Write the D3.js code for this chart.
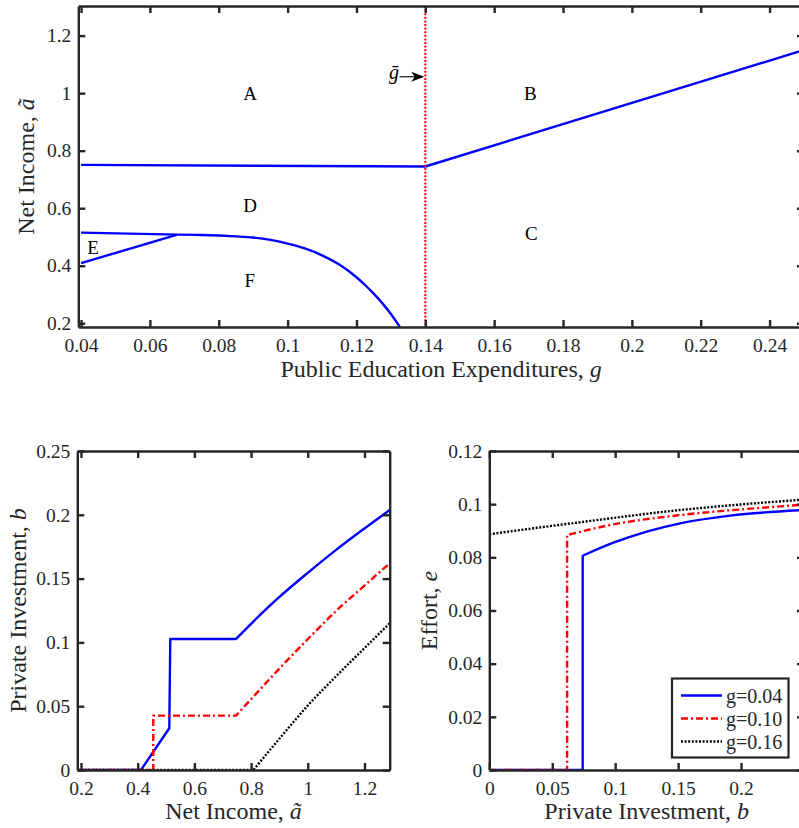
<!DOCTYPE html>
<html>
<head>
<meta charset="utf-8">
<script src="https://cdn.jsdelivr.net/npm/d3@7/dist/d3.min.js"></script>
<style>
  html, body { margin: 0; padding: 0; background: #fff; }
  svg { display: block; font-family: "Liberation Serif", "Times New Roman", serif; }
</style>
</head>
<body>
<svg id="chart" width="799" height="828"></svg>
<script>
// ---------------- DATA ----------------
// Top panel: regions in (g, ã) space
const topXTicks = [0.04, 0.06, 0.08, 0.10, 0.12, 0.14, 0.16, 0.18, 0.20, 0.22, 0.24];
const topYTicks = [0.2, 0.4, 0.6, 0.8, 1.0, 1.2];
const gBar = 0.14;
const boundAD_g = [0.04, 0.14];
const boundAD_a = [0.7506, 0.745];
const boundBC_g = [0.14, 0.25];
const boundBC_a = [0.745, 1.15];
const boundDE_g = [0.04, 0.068];
const boundDE_a = [0.515, 0.508];
const boundEF_g = [0.04, 0.068];
const boundEF_a = [0.409, 0.508];
const boundDF_g = [0.068, 0.075, 0.08, 0.085, 0.09, 0.095, 0.10, 0.105, 0.11, 0.115, 0.12, 0.1225, 0.125, 0.1275, 0.13, 0.1326];
const boundDF_a = [0.508, 0.507, 0.505, 0.502, 0.498, 0.490, 0.477, 0.460, 0.436, 0.404, 0.360, 0.333, 0.303, 0.270, 0.232, 0.187];
const regionNames = ["A", "B", "C", "D", "E", "F"];
const regionG = [0.0891, 0.1705, 0.1708, 0.0891, 0.0435, 0.089];
const regionA = [1.0, 1.0, 0.514, 0.611, 0.465, 0.35];
const arrowG = [0.1325, 0.1397];
const arrowA = 1.057;

// Bottom-left: private investment b vs net income ã
const blXTicks = [0.2, 0.4, 0.6, 0.8, 1.0, 1.2];
const blYTicks = [0, 0.05, 0.10, 0.15, 0.20, 0.25];
const inc_g04 = [0.187, 0.4116, 0.5115, 0.515, 0.7467, 0.8, 0.9, 1.0, 1.1, 1.2, 1.289];
const inv_g04 = [0, 0, 0.0327, 0.1027, 0.1027, 0.1146, 0.1356, 0.1545, 0.1725, 0.1893, 0.2038];
const inc_g10 = [0.187, 0.455, 0.455, 0.7467, 0.8, 0.9, 1.0, 1.1, 1.2, 1.289];
const inv_g10 = [0, 0, 0.0426, 0.0426, 0.0555, 0.0795, 0.1025, 0.1247, 0.1445, 0.162];
const inc_g16 = [0.187, 0.808, 0.9, 1.0, 1.1, 1.2, 1.289];
const inv_g16 = [0, 0, 0.0245, 0.0505, 0.0735, 0.0955, 0.115];

// Bottom-right: effort e vs private investment b
const brXTicks = [0, 0.05, 0.10, 0.15, 0.20];
const brYTicks = [0, 0.02, 0.04, 0.06, 0.08, 0.10, 0.12];
const pi_g04 = [0, 0.0742, 0.0742, 0.0986, 0.1251, 0.1516, 0.1913, 0.25];
const ef_g04 = [0, 0, 0.0806, 0.0855, 0.0897, 0.0928, 0.0957, 0.0978];
const pi_g10 = [0, 0.0618, 0.0618, 0.0986, 0.1516, 0.2046, 0.25];
const ef_g10 = [0, 0, 0.0884, 0.0924, 0.0959, 0.0982, 0.0998];
const pi_g16 = [0, 0.0721, 0.1516, 0.20, 0.25];
const ef_g16 = [0.0887, 0.0932, 0.0978, 0.0999, 0.1017];

const seriesNames = ["g=0.04", "g=0.10", "g=0.16"];

// ---------------- STYLE ----------------
const AX = "#262626";
const BLUE = "#0000ff", RED = "#ff0000", BLACK = "#000000";
const styles = [
  { color: BLUE, dash: null },
  { color: RED, dash: "7,3,2,3" },
  { color: BLACK, dash: "2,1.6" }
];
const fmt = v => String(+v.toFixed(3));

const svg = d3.select("#chart");

function drawAxes(x, y, xt, yt) {
  const [x0, x1] = x.range();
  const [y0, y1] = y.range();
  const g = svg.append("g");
  const setStyle = sel => {
    sel.select(".domain").attr("stroke", AX).attr("stroke-width", 2.4);
    sel.selectAll(".tick line").attr("stroke", AX).attr("stroke-width", 2.4);
    sel.selectAll(".tick text").attr("fill", AX).attr("font-size", 19.5);
  };
  g.append("g").attr("transform", `translate(0,${y0})`)
    .call(d3.axisBottom(x).tickValues(xt).tickSizeInner(-7).tickSizeOuter(0).tickPadding(11).tickFormat(fmt))
    .call(setStyle);
  g.append("g").attr("transform", `translate(0,${y1})`)
    .call(d3.axisTop(x).tickValues(xt).tickSizeInner(-7).tickSizeOuter(0).tickFormat(""))
    .call(setStyle);
  g.append("g").attr("transform", `translate(${x0},0)`)
    .call(d3.axisLeft(y).tickValues(yt).tickSizeInner(-7).tickSizeOuter(0).tickPadding(7).tickFormat(fmt))
    .call(setStyle);
  g.append("g").attr("transform", `translate(${x1},0)`)
    .call(d3.axisRight(y).tickValues(yt).tickSizeInner(-7).tickSizeOuter(0).tickFormat(""))
    .call(setStyle);
  g.selectAll("text").attr("font-family", "Liberation Serif, serif");
  return g;
}

// straight segments up to index `smoothFrom`, smooth (monotone) curve afterwards
function addLine(parent, x, y, xs, ys, color, dash, width, smoothFrom) {
  const pts = xs.map((v, i) => [x(v), y(ys[i])]);
  const k = smoothFrom == null ? pts.length - 1 : smoothFrom;
  let d = d3.line()(pts.slice(0, k + 1));
  if (k < pts.length - 1) {
    const tail = d3.line().curve(d3.curveMonotoneX)(pts.slice(k));
    d += "L" + tail.slice(1);
  }
  const p = parent.append("path")
    .attr("d", d)
    .attr("fill", "none")
    .attr("stroke", color)
    .attr("stroke-width", width || 2.2)
    .attr("stroke-linejoin", "round");
  if (dash) p.attr("stroke-dasharray", dash);
  return p;
}

function clipFor(id, x, y) {
  svg.append("clipPath").attr("id", id).append("rect")
    .attr("x", x.range()[0]).attr("y", y.range()[1])
    .attr("width", x.range()[1] - x.range()[0])
    .attr("height", y.range()[0] - y.range()[1]);
  return svg.append("g").attr("clip-path", `url(#${id})`);
}

function label(x, y, parts, rotate, size) {
  const t = svg.append("text")
    .attr("text-anchor", "middle")
    .attr("fill", AX)
    .attr("font-size", size || 24)
    .attr("transform", `translate(${x},${y})` + (rotate ? " rotate(-90)" : ""));
  parts.forEach(p => t.append("tspan").text(p[0]).attr("font-style", p[1] ? "italic" : "normal"));
}

// ---------------- TOP PANEL ----------------
{
  const x = d3.scaleLinear().domain([0.0392, 0.25]).range([78.3, 804]);
  const y = d3.scaleLinear().domain([0.187, 1.303]).range([327, 6]);
  const plot = clipFor("clipTop", x, y);

  [[boundAD_g, boundAD_a], [boundBC_g, boundBC_a], [boundDE_g, boundDE_a],
   [boundEF_g, boundEF_a]].forEach(([gs, as]) =>
    addLine(plot, x, y, gs, as, BLUE, null, 2.4));
  addLine(plot, x, y, boundDF_g, boundDF_a, BLUE, null, 2.4, 0);

  plot.append("line")
    .attr("x1", x(gBar)).attr("x2", x(gBar))
    .attr("y1", y.range()[1]).attr("y2", y.range()[0])
    .attr("stroke", RED).attr("stroke-width", 2).attr("stroke-dasharray", "2,1.6");

  regionNames.forEach((n, i) => {
    svg.append("text").attr("x", x(regionG[i])).attr("y", y(regionA[i]))
      .attr("dy", "0.35em").attr("text-anchor", "middle")
      .attr("font-size", 19).attr("fill", "#000").text(n);
  });

  // g-bar annotation with arrow
  svg.append("line")
    .attr("x1", x(arrowG[0])).attr("x2", x(arrowG[1]) - 8)
    .attr("y1", y(arrowA)).attr("y2", y(arrowA))
    .attr("stroke", "#000").attr("stroke-width", 1.1);
  const tx = x(arrowG[1]), ty = y(arrowA);
  svg.append("path")
    .attr("d", `M${tx},${ty} L${tx - 13},${ty - 5} L${tx - 9.5},${ty} L${tx - 13},${ty + 5} Z`)
    .attr("fill", "#000");
  svg.append("text").attr("x", x(arrowG[0]) - 0.5).attr("y", y(arrowA) + 2)
    .attr("text-anchor", "end").attr("font-size", 20).attr("font-style", "italic")
    .attr("fill", "#000").text("ḡ");

  drawAxes(x, y, topXTicks, topYTicks);
  label((78.3 + 804) / 2, 377, [["Public Education Expenditures, ", false], ["g", true]]);
  label(34, 166.5, [["Net Income, ", false], ["ã", true]], true);
}

// ---------------- BOTTOM LEFT ----------------
{
  const x = d3.scaleLinear().domain([0.187, 1.289]).range([77.3, 389.7]);
  const y = d3.scaleLinear().domain([0, 0.25]).range([770, 451]);
  const plot = clipFor("clipBL", x, y);
  const data = [[inc_g04, inv_g04, 4], [inc_g10, inv_g10, 3], [inc_g16, inv_g16, 1]];
  data.forEach(([xs, ys, k], i) => addLine(plot, x, y, xs, ys, styles[i].color, styles[i].dash, 2.4, k));
  drawAxes(x, y, blXTicks, blYTicks);
  label((77.3 + 389.7) / 2, 819, [["Net Income, ", false], ["ã", true]]);
  label(26, 610.5, [["Private Investment, ", false], ["b", true]], true);
}

// ---------------- BOTTOM RIGHT ----------------
{
  const x = d3.scaleLinear().domain([0, 0.25]).range([489.3, 804]);
  const y = d3.scaleLinear().domain([0, 0.12]).range([770, 451]);
  const plot = clipFor("clipBR", x, y);
  const data = [[pi_g04, ef_g04, 2], [pi_g10, ef_g10, 2], [pi_g16, ef_g16, 0]];
  data.forEach(([xs, ys, k], i) => addLine(plot, x, y, xs, ys, styles[i].color, styles[i].dash, 2.4, k));
  drawAxes(x, y, brXTicks, brYTicks);
  label((489.3 + 804) / 2, 819, [["Private Investment, ", false], ["b", true]]);
  label(437, 610.5, [["Effort, ", false], ["e", true]], true);

  // legend
  const lg = svg.append("g");
  lg.append("rect").attr("x", 672).attr("y", 678.5).attr("width", 116.5).attr("height", 79)
    .attr("fill", "#fff").attr("stroke", AX).attr("stroke-width", 2.2);
  const rowY = [695.5, 718.5, 741.5];
  seriesNames.forEach((n, i) => {
    const l = lg.append("line").attr("x1", 681).attr("x2", 722)
      .attr("y1", rowY[i]).attr("y2", rowY[i])
      .attr("stroke", styles[i].color).attr("stroke-width", 2.4);
    if (styles[i].dash) l.attr("stroke-dasharray", styles[i].dash);
    lg.append("text").attr("x", 726).attr("y", rowY[i]).attr("dy", "0.35em")
      .attr("font-size", 20).attr("fill", AX).text(n);
  });
}
</script>
</body>
</html>
